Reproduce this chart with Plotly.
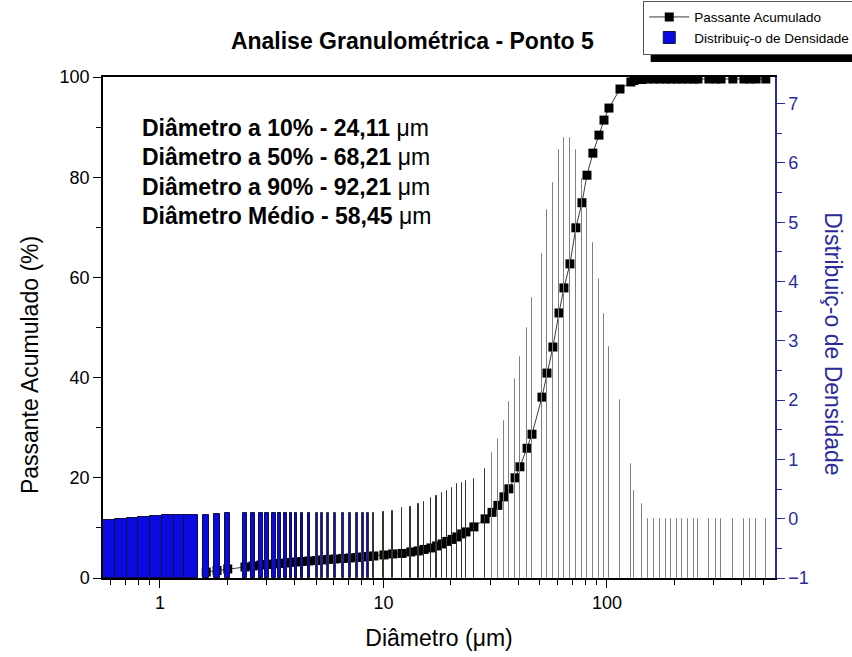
import plotly.graph_objects as go

# Size classes (µm)
bins_um = [0.59, 0.67, 0.76, 0.85, 0.96, 1.09, 1.23, 1.38,
           1.61, 1.80, 2.01,
           2.40, 2.61, 2.83, 3.01, 3.24, 3.44, 3.66, 3.86, 4.06, 4.32,
           4.64, 5.04, 5.30, 5.65, 6.07, 6.59, 7.08, 7.61, 8.09, 8.52, 9.06,
           10.05, 11.0, 12.1, 13.25, 14.3, 15.2, 16.3, 17.3, 18.3, 19.2,
           20.3, 21.3, 22.4, 23.4, 25.4, 28.5, 30.6, 32.5, 34.6, 36.4,
           38.8, 40.8, 43.9, 46.2, 51.2, 53.9, 57.3, 61.0, 64.2, 68.3,
           72.6, 77.3, 81.4, 86.5, 92.1, 97.0, 102.1, 114.4, 128.0, 132.0,
           143.5, 152.5, 162.3, 172.6, 183.6, 193.3, 205.7, 216.6, 230.2, 244.9,
           255.3, 286.0, 307.0, 324.0, 366.0, 410.0, 436.0, 465.0, 514.0]

# Density distribution per class
densidade = [-0.02, 0.00, 0.02, 0.03, 0.05, 0.06, 0.06, 0.07,
             0.07, 0.08, 0.09,
             0.10, 0.10, 0.10, 0.09, 0.09, 0.09, 0.09, 0.09, 0.09, 0.09,
             0.09, 0.09, 0.09, 0.09, 0.09, 0.09, 0.09, 0.09, 0.09, 0.10, 0.10,
             0.11, 0.13, 0.18, 0.20, 0.25, 0.29, 0.35, 0.39, 0.44, 0.47,
             0.52, 0.59, 0.61, 0.64, 0.67, 0.84, 1.10, 1.35, 1.65, 1.97,
             2.36, 2.73, 3.22, 3.73, 4.47, 5.21, 5.67, 6.22, 6.42, 6.42,
             6.22, 5.73, 5.24, 4.65, 4.05, 3.46, 2.90, 2.01, 0.93, 0.47,
             0.24, 0.0, 0.0, 0.0, 0.0, 0.0, 0.0, 0.0, 0.0, 0.0,
             0.0, 0.0, 0.0, 0.0, 0.0, 0.0, 0.0, 0.0, 0.0]

# Cumulative passing (%) from 1.61 µm upward
passante_x = bins_um[8:]
passante = [1.2, 1.5, 1.8,
            2.2, 2.4, 2.6, 2.7, 2.8, 2.9, 3.0, 3.1, 3.2, 3.3,
            3.4, 3.5, 3.6, 3.7, 3.8, 3.9, 4.0, 4.1, 4.2, 4.3, 4.4,
            4.6, 4.8, 4.9, 5.2, 5.4, 5.7, 6.0, 6.4, 6.8, 7.3,
            7.7, 8.2, 8.8, 9.2, 10.2, 11.8, 13.1, 14.5, 16.2, 17.8,
            20.0, 22.2, 25.9, 28.7, 36.1, 40.9, 46.1, 52.9, 57.9, 62.7,
            69.9, 74.9, 80.4, 84.8, 88.4, 91.4, 93.8, 97.6, 99.0, 99.3,
            99.5, 99.6, 99.6, 99.6, 99.6, 99.6, 99.6, 99.6, 99.6, 99.6,
            99.6, 99.6, 99.6, 99.6, 99.6, 99.6, 99.6, 99.6, 99.6]

x_ticks = [1, 10, 100]
info_lines = ["Diâmetro a 10% - 24,11", "Diâmetro a 50% - 68,21",
              "Diâmetro a 90% - 92,21", "Diâmetro Médio - 58,45"]

FONT = "Arial, Liberation Sans, sans-serif"
BLUE = "#0a0ae0"
AXBLUE = "#2b2b9c"
X_RANGE = [-0.255, 2.752]

# bar widths in data units: fine classes touch each other, the rest are narrow columns
widths = []
for i, x in enumerate(bins_um):
    if x < 1.5:
        nxt = bins_um[i + 1]
        prv = bins_um[i - 1] if i > 0 else x - (nxt - x)
        widths.append((nxt - prv) / 2)
    else:
        widths.append(0.11)
line_cols = ["#101040" if x < 5 else ("#333333" if x < 30 else "#808080") for x in bins_um]

fig = go.Figure()
fig.add_trace(go.Bar(
    x=bins_um, y=[v + 1 for v in densidade], base=-1, width=widths,
    yaxis="y2", name="Distribuiç-o de Densidade",
    marker=dict(color=BLUE, line=dict(color=line_cols, width=1)),
    hoverinfo="skip"))
fig.add_trace(go.Scatter(
    x=passante_x, y=passante, mode="lines+markers", name="Passante Acumulado",
    line=dict(color="#3a3a3a", width=1),
    marker=dict(symbol="square", size=9, color="black"),
    hoverinfo="skip"))

for k, t in enumerate(info_lines):
    fig.add_annotation(
        xref="paper", yref="paper", x=0.055, y=0.898 - k * 0.0585,
        xanchor="left", yanchor="middle", showarrow=False,
        text="<b>" + t + "</b> μm", font=dict(family=FONT, size=23, color="black"))

# axis titles for the two y scales
fig.add_annotation(xref="paper", yref="paper", x=-0.1086, y=0.425, textangle=-90,
                   xanchor="center", yanchor="middle", showarrow=False,
                   text="Passante Acumulado (%)", font=dict(family=FONT, size=23, color="black"))
fig.add_annotation(xref="paper", yref="paper", x=1.086, y=0.467, textangle=90,
                   xanchor="center", yanchor="middle", showarrow=False,
                   text="Distribuiç-o de Densidade", font=dict(family=FONT, size=23, color=AXBLUE))

# legend drop shadow, just under the legend box
fig.add_shape(type="rect", xref="paper", yref="paper",
              x0=0.815, x1=1.12, y0=1.030, y1=1.044,
              fillcolor="black", line=dict(width=0), layer="above")

fig.update_layout(
    width=852, height=657, margin=dict(l=103, r=77, t=77, b=79, autoexpand=False),
    paper_bgcolor="white", plot_bgcolor="white",
    font=dict(family=FONT, color="black", size=18),
    bargap=0, showlegend=True,
    title=dict(text="<b>Analise Granulométrica - Ponto 5</b>", x=0.484, xanchor="center",
               y=0.938, yanchor="middle", font=dict(family=FONT, size=23, color="black")),
    legend=dict(xref="container", yref="container", x=0.755, y=0.999,
                xanchor="left", yanchor="top",
                bgcolor="white", bordercolor="#555555", borderwidth=1,
                font=dict(family=FONT, size=13.5, color="black"),
                traceorder="reversed", itemwidth=40, tracegroupgap=0),
    xaxis=dict(type="log", range=X_RANGE, tickvals=x_ticks, ticktext=[str(v) for v in x_ticks],
               ticks="outside", ticklen=8, tickwidth=1, tickcolor="black",
               minor=dict(dtick="D1", ticks="outside", ticklen=5, tickcolor="black", showgrid=False),
               showline=True, linecolor="black", linewidth=1.5, mirror=True,
               showgrid=False, zeroline=False, tickfont=dict(size=18), automargin=False,
               title=dict(text="Diâmetro (μm)", font=dict(size=23), standoff=18)),
    yaxis=dict(range=[0, 100], dtick=20, ticks="outside", ticklen=8, tickcolor="black",
               minor=dict(dtick=10, ticks="outside", ticklen=5, tickcolor="black", showgrid=False),
               showline=True, linecolor="black", linewidth=1.5, automargin=False,
               showgrid=False, zeroline=False, tickfont=dict(size=18)),
    yaxis2=dict(range=[-1, 7.45], dtick=1, overlaying="y", side="right", anchor="x",
                ticks="outside", ticklen=8, tickcolor=AXBLUE,
                minor=dict(dtick=0.5, ticks="outside", ticklen=5, tickcolor=AXBLUE, showgrid=False),
                showline=True, linecolor=AXBLUE, linewidth=1.5, automargin=False,
                showgrid=False, zeroline=False, tickfont=dict(size=18, color=AXBLUE)),
)

fig.write_html("out.html")
